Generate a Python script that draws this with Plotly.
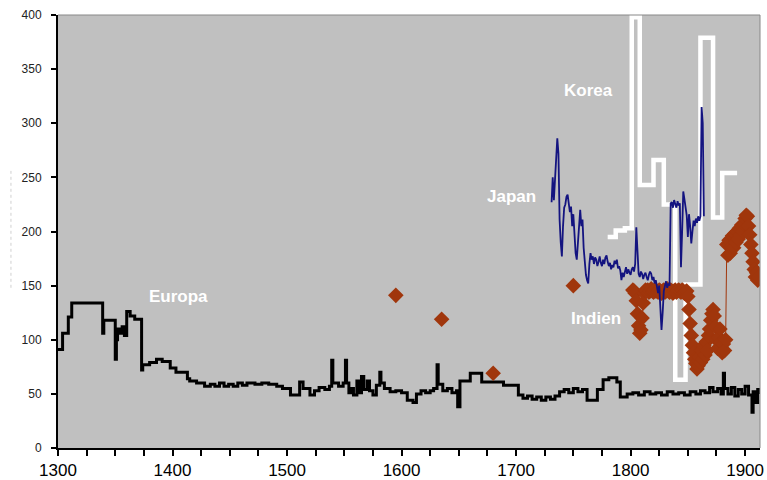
import plotly.graph_objects as go

# ---------------- data ----------------
europa_years = [1300, 1304, 1309, 1312, 1339, 1340, 1348, 1350, 1351, 1352, 1354, 1356, 1358, 1360,
                1363, 1367, 1373, 1374, 1380, 1386, 1391, 1398, 1403, 1413, 1415, 1421, 1428, 1433,
                1437, 1441, 1445, 1449, 1453, 1457, 1461, 1465, 1472, 1478, 1484, 1491, 1496, 1503,
                1511, 1514, 1520, 1524, 1528, 1533, 1537, 1539, 1540, 1545, 1549, 1551, 1552, 1554,
                1556, 1558, 1561, 1563, 1565, 1567, 1570, 1572, 1575, 1578, 1581, 1582, 1585, 1590,
                1595, 1600, 1605, 1610, 1613, 1617, 1621, 1625, 1628, 1631, 1632, 1636, 1640, 1644,
                1648, 1649, 1651, 1660, 1670, 1689, 1702, 1706, 1710, 1714, 1718, 1722, 1726, 1730,
                1734, 1738, 1742, 1746, 1750, 1754, 1758, 1762, 1771, 1776, 1781, 1788, 1791, 1797,
                1802, 1807, 1812, 1817, 1822, 1827, 1832, 1837, 1842, 1847, 1852, 1857, 1861, 1865,
                1869, 1872, 1876, 1879, 1881, 1882, 1885, 1888, 1891, 1894, 1897, 1900, 1903, 1906,
                1907, 1909, 1911, 1913]
europa_values = [91, 106, 121, 134, 106, 118, 118, 82, 100, 110, 106, 112, 104, 126,
                 122, 119, 72, 77, 79, 82, 80, 74, 70, 64, 62, 60, 57, 59,
                 57, 60, 57, 59, 57, 60, 58, 60, 59, 60, 59, 57, 55, 49,
                 61, 55, 49, 53, 56, 54, 57, 81, 60, 57, 60, 81, 60, 51,
                 55, 49, 62, 51, 66, 54, 62, 53, 49, 58, 70, 60, 55, 52,
                 53, 51, 44, 42, 50, 53, 51, 53, 55, 77, 59, 53, 55, 51,
                 53, 38, 62, 69, 61, 58, 49, 46, 48, 45, 47, 44, 47, 45,
                 48, 52, 54, 51, 55, 52, 54, 44, 54, 63, 65, 61, 47, 50,
                 51, 49, 52, 50, 51, 49, 52, 50, 51, 49, 52, 50, 53, 51,
                 56, 52, 55, 50, 69, 55, 50, 56, 48, 54, 50, 57, 49, 33,
                 52, 42, 54, 50]

japan_years = list(range(1731, 1865))
japan_values = [227, 250, 229, 245, 262, 286, 272, 211, 190, 177,
                205, 222, 225, 232, 234, 228, 218, 223, 205, 216,
                196, 180, 174, 192, 210, 220, 205, 211, 185, 167,
                160, 155, 152, 170, 180, 174, 177, 170, 176, 174,
                168, 172, 177, 171, 168, 174, 170, 176, 178, 172,
                168, 171, 165, 169, 167, 173, 170, 174, 166, 168,
                164, 155, 162, 158, 164, 167, 161, 165, 162, 160,
                165, 167, 163, 170, 204, 185, 161, 158, 163, 161,
                156, 160, 162, 158, 155, 160, 163, 161, 155, 158,
                152, 155, 148, 143, 150, 130, 109, 125, 145, 150,
                154, 148, 152, 150, 226, 227, 222, 229, 225, 222,
                228, 224, 226, 167, 200, 237, 230, 222, 215, 195,
                216, 205, 189, 200, 210, 205, 212, 208, 214, 210,
                214, 315, 300, 214]

korea_years = [1780, 1787, 1795, 1801, 1808, 1820, 1829, 1839, 1848, 1861, 1872, 1880, 1893]
korea_values = [195, 201, 203, 398, 243, 266, 225, 63, 151, 379, 213, 254, 254]

indien_early_years = [1595, 1635, 1680, 1750]
indien_early_values = [141, 119, 69, 150]

indien_years = list(range(1802, 1913))
indien_values = [146, 145, 143, 136, 124, 113, 106, 109, 120, 134,
                 143, 146, 145, 146, 144, 145, 147, 145, 144, 146,
                 145, 145, 144, 146, 145, 143, 145, 146, 144, 145,
                 147, 145, 144, 146, 145, 143, 145, 146, 144, 145,
                 146, 145, 144, 146, 145, 143, 144, 145, 140, 128,
                 115, 104, 95, 88, 82, 78, 73, 76, 84, 79,
                 90, 82, 95, 86, 98, 90, 104, 110, 118, 124,
                 128, 122, 112, 100, 92, 102, 110, 98, 88, 96,
                 90, 100, 188, 178, 192, 180, 186, 196, 185, 198,
                 190, 200, 193, 203, 197, 206, 200, 207, 212, 215,
                 214, 205, 197, 188, 180, 172, 165, 158, 162, 155,
                 158]

x_tick_values = [1300, 1400, 1500, 1600, 1700, 1800, 1900]
y_tick_values = [0, 50, 100, 150, 200, 250, 300, 350, 400]

labels = ["Europa", "Japan", "Korea", "Indien"]
label_x = [1405, 1696, 1763, 1770]
label_y = [140, 232, 330, 120]

# ---------------- figure ----------------
brown = "#A0360C"
fig = go.Figure()
fig.add_trace(go.Scatter(x=europa_years, y=europa_values, mode="lines",
                         line=dict(color="black", width=3, shape="hv")))
fig.add_trace(go.Scatter(x=korea_years, y=korea_values, mode="lines",
                         line=dict(color="white", width=4.5, shape="hv")))
fig.add_trace(go.Scatter(x=indien_early_years, y=indien_early_values, mode="markers",
                         marker=dict(symbol="diamond", size=12, color=brown)))
fig.add_trace(go.Scatter(x=indien_years, y=indien_values, mode="lines+markers",
                         line=dict(color=brown, width=1),
                         marker=dict(symbol="diamond", size=12, color=brown)))
fig.add_trace(go.Scatter(x=japan_years, y=japan_values, mode="lines",
                         line=dict(color="#141480", width=1.8)))

for t, lx, ly in zip(labels, label_x, label_y):
    fig.add_annotation(x=lx, y=ly, text="<b>%s</b>" % t, showarrow=False,
                       font=dict(family="Arial", size=17, color="white"))

fig.update_layout(
    width=767, height=480,
    margin=dict(l=58, r=7, t=15, b=32, autoexpand=False),
    plot_bgcolor="#C0C0C0", paper_bgcolor="white",
    showlegend=False,
    xaxis=dict(range=[1300, 1913], tickvals=x_tick_values, ticks="outside",
               ticklen=6, tickwidth=2, tickcolor="black", automargin=False,
               showline=True, linecolor="black", linewidth=2,
               showgrid=False, zeroline=False,
               tickfont=dict(family="Arial", size=17, color="black"),
               minor=dict(tick0=1300, dtick=25, ticks="outside", ticklen=6,
                          tickwidth=2, tickcolor="black", showgrid=False)),
    yaxis=dict(range=[0, 400], tickvals=y_tick_values, ticks="outside",
               ticklen=5, tickwidth=2, tickcolor="black", automargin=False,
               showline=True, linecolor="black", linewidth=2,
               showgrid=False, zeroline=False, ticklabelstandoff=7,
               tickfont=dict(family="Arial", size=12, color="#222222")),
    shapes=[
        dict(type="line", xref="paper", yref="paper", x0=0, x1=1, y0=1, y1=1,
             line=dict(color="#888888", width=1)),
        dict(type="line", xref="paper", yref="paper", x0=1, x1=1, y0=0, y1=1,
             line=dict(color="#888888", width=1)),
        dict(type="line", xref="paper", yref="paper", x0=-0.067, x1=-0.067,
             y0=0.37, y1=0.64, line=dict(color="#d0d0d0", width=1, dash="dot")),
    ],
)

fig.write_html(
    "out.html",
    config={"displayModeBar": False},
    post_script="document.body.style.margin='0px';document.body.style.overflow='hidden';",
)
